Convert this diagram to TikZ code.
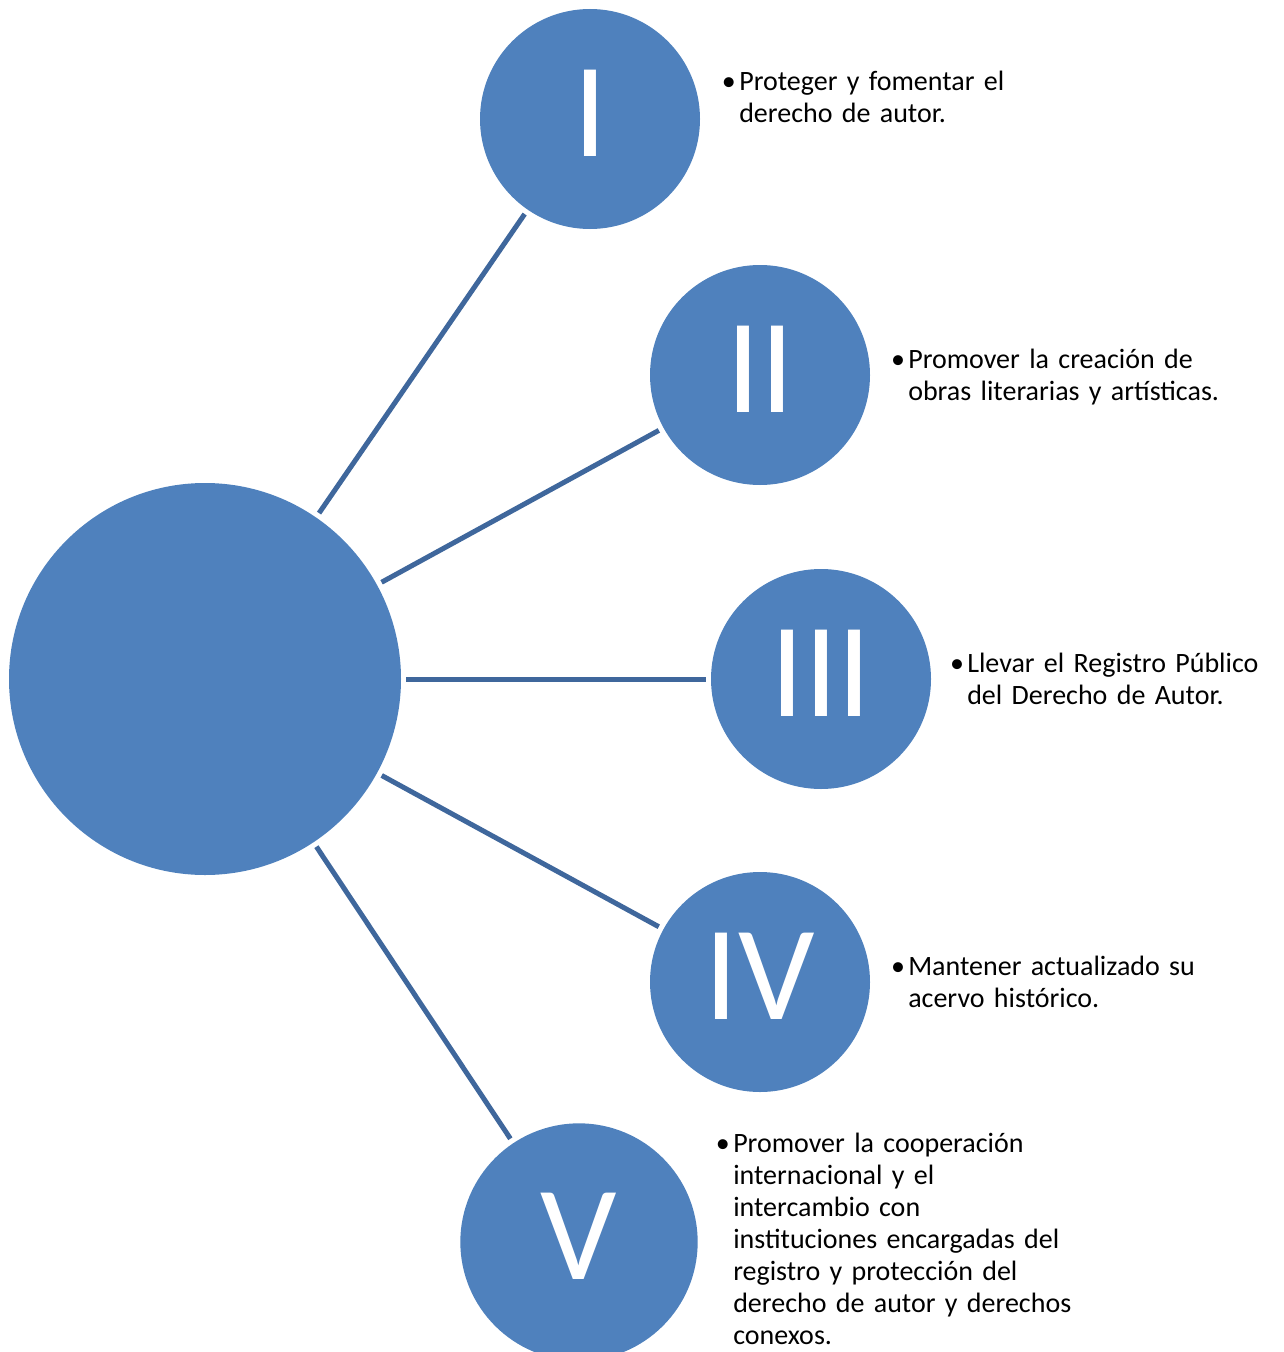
\documentclass[tikz,border=0pt]{standalone}
\usepackage{fontspec}
\setmainfont{Carlito}
\usepackage{xcolor}
\usepackage{tikz}
\usetikzlibrary{positioning}

\definecolor{circblue}{HTML}{4F81BD}
\definecolor{lineblue}{HTML}{3F679C}
\newcommand{\bul}{\llap{\textbullet\hspace{2.5pt}}}

\begin{document}
\begin{tikzpicture}[x=0.75pt, y=-0.75pt,
			hub/.style={circle, fill=circblue, minimum size=294pt, inner sep=0pt, outer sep=4pt},
			num/.style={circle, fill=circblue, minimum size=165pt, inner sep=0pt, outer sep=4pt,
				text=white, text depth=9pt, font=\fontsize{101}{101}\selectfont},
			desc/.style={anchor=base west, align=left, text width=320pt, inner sep=0pt,
				font=\fontsize{21}{24}\selectfont},
			rel/.style={-, draw=lineblue, line width=3.75pt}
			]
			\useasboundingbox (0,0) rectangle (1283,1352);
			
			\node[hub] (hub) at (205,679) {};
			
			\node[num] (n1) at (590,119) {I};
			\node[num] (n2) at (760,375) {II};
			\node[num] (n3) at (821,679) {III};
			\node[num] (n4) at (760,982) {IV};
			\node[num, minimum size=178pt] (n5) at (579,1242) {V};
			
			\draw[rel] (hub) -- (n1);
			\draw[rel] (hub) -- (n2);
			\draw[rel] (hub) -- (n3);
			\draw[rel] (hub) -- (n4);
			\draw[rel] (hub) -- (n5);
			
			\node[desc] (t1) at (739,91) {\bul Proteger y fomentar el\\derecho de autor.};
			\node[desc] (t2) at (908,368) {\bul Promover la creación de\\obras literarias y artísticas.};
			\node[desc] (t3) at (967,672) {\bul Llevar el Registro Público\\del Derecho de Autor.};
			\node[desc] (t4) at (908,975) {\bul Mantener actualizado su\\acervo histórico.};
			\node[desc] (t5) at (733,1152) {\bul Promover la cooperación\\internacional y el\\intercambio con\\instituciones encargadas del\\registro y protección del\\derecho de autor y derechos\\conexos.};
		\end{tikzpicture}
\end{document}
